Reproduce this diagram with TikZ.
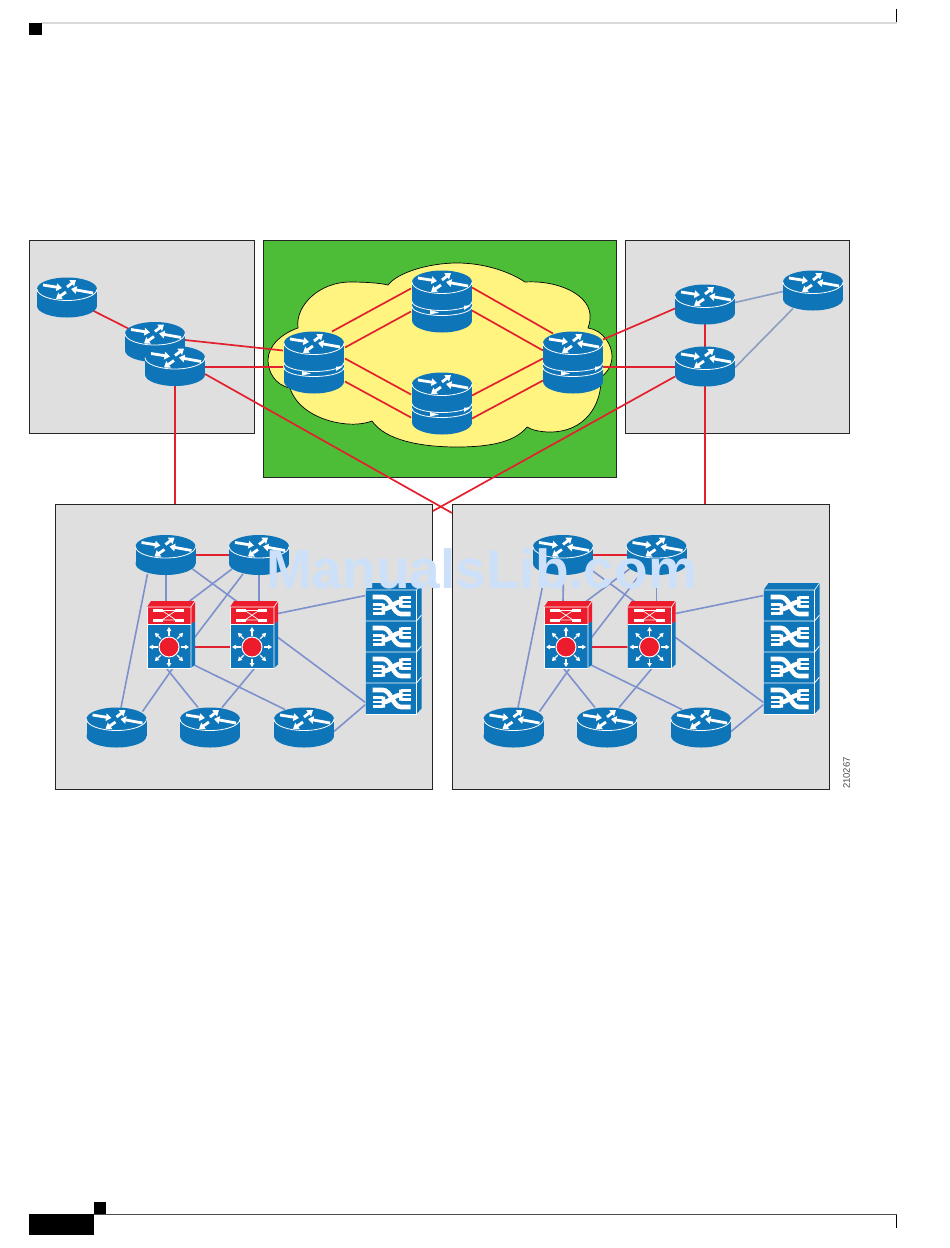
\documentclass[tikz,border=0pt]{standalone}
\usepackage{fontspec}
\setmainfont{Liberation Sans}
\usetikzlibrary{positioning,calc,arrows.meta}
\definecolor{iconblue}{HTML}{0F75B9}
\definecolor{iconred}{HTML}{EC1C2C}
\definecolor{panelgrey}{HTML}{DFDFDF}
\definecolor{cloudgreen}{HTML}{4DBD38}
\definecolor{cloudyellow}{HTML}{FFF480}
\definecolor{linkred}{HTML}{E2202E}
\definecolor{linkblue}{HTML}{7D92CC}
\definecolor{linkgrey}{HTML}{8A9DC2}
\definecolor{markblue}{HTML}{CDE0FA}
\pgfdeclarelayer{panels}
\pgfdeclarelayer{links}
\pgfsetlayers{panels,links,main}
\tikzset{
  face arrow/.style={white,line width=2.8pt,-{Triangle[width=7.5pt,length=5.5pt]}},
  ray arrow/.style={white,line width=1.3pt,-{Triangle[width=4.5pt,length=4pt]}},
}
% top face of a router, with its four arrows
\newcommand{\routerface}[1]{%
  \fill[iconblue] (0,#1) ellipse[x radius=30pt,y radius=11.5pt];
  \draw[white,line width=.8pt] (-30,#1) arc[start angle=180,end angle=360,x radius=30pt,y radius=11.5pt];
  \draw[face arrow] ($(0,#1)+(-24,-4)$) -- ($(0,#1)+(-5,-1)$);
  \draw[face arrow] ($(0,#1)+(0,-2)$) -- ($(0,#1)+(9,-9)$);
  \draw[face arrow] ($(0,#1)+(26,4)$) -- ($(0,#1)+(4,0)$);
  \draw[face arrow] ($(0,#1)+(-1,3)$) -- ($(0,#1)+(-11,10)$);}
\newcommand{\routericon}{%
  \fill[iconblue] (-30,-8.5) rectangle (30,8.5);
  \fill[iconblue] (0,8.5) ellipse[x radius=30pt,y radius=11.5pt];
  \routerface{-8.5}}
\newcommand{\coreicon}{%
  \fill[iconblue] (-30,-19) rectangle (30,19);
  \fill[iconblue] (0,19) ellipse[x radius=30pt,y radius=12pt];
  \routerface{-19.5}
  \draw[white,line width=.8pt] (-30,0) arc[start angle=180,end angle=360,x radius=30pt,y radius=9pt];
  \draw[white,line width=.8pt] (-30,5) arc[start angle=180,end angle=360,x radius=30pt,y radius=9pt];
  \fill[white] (-12,8.5) -- (-12,13) -- (-3,11) -- cycle;
  \fill[white] (22,4) -- (22,8.5) -- (29,4) -- cycle;}
\newcommand{\switchicon}{%
  \fill[iconred] (-24,-27.5) -- (-20,-33.5) -- (24,-33.5) -- (24,-13) -- (20,-10.5) -- (-24,-10.5) -- cycle;
  \fill[iconblue] (-24,-10.5) -- (20,-10.5) -- (24,-13) -- (24,30) -- (20,33.5) -- (-24,33.5) -- cycle;
  \draw[white,line width=.6pt] (-24,-27.5) -- (20,-27.5) -- (24,-33.5) (20,-27.5) -- (20,33.5);
  \draw[white,line width=.7pt] (-24,-10.5) -- (20,-10.5);
  \draw[white,line width=1pt] (-24,33.5) -- (-24,-27.5);
  \draw[white,line width=1pt] (-24,33.5) -- (20,33.5);
  \draw[white,line width=3pt] (-18,-24) -- (-8,-24) (4,-24) -- (13,-24) (-18,-14.5) -- (-8,-14.5) (4,-14.5) -- (13,-14.5);
  \draw[white,line width=.7pt] (-9,-24) -- (5,-14.5) (-9,-14.5) -- (5,-24) (-9,-24) -- (5,-24) (-9,-14.5) -- (5,-14.5);
  \fill[iconred,draw=white,line width=1pt] (-2,12.5) circle[radius=10pt];
  \foreach \a in {0,45,...,315}
    \draw[ray arrow] ($(-2,12.5)+(\a:11.5)$) -- ($(-2,12.5)+(\a:20)$);}
\newcommand{\stackicon}{%
  \fill[iconblue] (-28,-58.5) -- (-23,-65.5) -- (28,-65.5) -- (28,60) -- (23,65.5) -- (-28,65.5) -- cycle;
  \draw[white,line width=.6pt] (-28,-58.5) -- (23,-58.5) -- (28,-65.5) (23,-58.5) -- (23,65.5);
  \foreach \uy in {-43,-12,19,50}{
    \draw[white,line width=4.6pt] (-21,\uy-8.5) -- (-10.5,\uy-8.5) .. controls (-2.5,\uy-8.5) and (-.5,\uy+8.5) .. (7.5,\uy+8.5) -- (17,\uy+8.5);
    \draw[white,line width=4.6pt] (-10.5,\uy+3.5) .. controls (-2.5,\uy+3.5) and (-.5,\uy-3.5) .. (7.5,\uy-3.5);
    \fill[white] (-12,\uy-2) rectangle (-8.5,\uy+9) (5.5,\uy-9) rectangle (9,\uy+2);
    \draw[white,line width=2.4pt] (-21,\uy-1) -- (-10.5,\uy-1) (-21,\uy+3.5) -- (-10.5,\uy+3.5) (-21,\uy+8) -- (-10.5,\uy+8);
    \draw[white,line width=2.4pt] (7.5,\uy-8) -- (17,\uy-8) (7.5,\uy-3.5) -- (17,\uy-3.5) (7.5,\uy+1) -- (17,\uy+1);}
  \foreach \uy in {-27.5,3.5,34.5}
    \draw[white,line width=.8pt] (-28,\uy) -- (23,\uy) -- (28,\uy-6);
  \draw[white,line width=1pt] (-28,65.5) -- (23,65.5);
  \draw[white,line width=1pt] (-28,65.5) -- (-28,-58.5);}
\tikzset{
  router node/.style={rectangle,inner sep=0pt,outer sep=0pt,minimum width=62pt,minimum height=43pt,path picture={\routericon}},
  core node/.style={rectangle,inner sep=0pt,outer sep=0pt,minimum width=62pt,minimum height=66pt,path picture={\coreicon}},
  switch node/.style={rectangle,inner sep=0pt,outer sep=0pt,minimum width=48pt,minimum height=67pt,path picture={\switchicon}},
  stack node/.style={rectangle,inner sep=0pt,outer sep=0pt,minimum width=56pt,minimum height=131pt,path picture={\stackicon}},
  panel box/.style={rectangle,draw=black!85,line width=.8pt,fill=panelgrey,inner sep=0pt,outer sep=0pt},
  red link/.style={draw=linkred,line width=1.7pt},
  blue link/.style={draw=linkblue,line width=1.6pt},
  grey link/.style={draw=linkgrey,line width=1.6pt},
}
\begin{document}
\begin{tikzpicture}[x=1pt,y=-1pt]
  \useasboundingbox (0,0) rectangle (950,1248);

  % page marks
  \fill[black!15] (41,22.3) rectangle (897,23.7);
  \fill[black] (29,23) rectangle (42,35);
  \fill[black] (895.7,9) rectangle (897.2,22);
  \fill[black] (29,1214) rectangle (94,1235);
  \fill[black] (94,1202) rectangle (106,1214);
  \fill[black!70] (94,1213.6) rectangle (897,1214.6);
  \fill[black] (895.7,1215) rectangle (897.2,1228);

  % upper row
  \node[router node] (r0) at (67,297.5) {};
  \node[router node] (r1) at (155,342) {};
  \node[router node] (r2) at (175,366) {};
  \node[core node] (c1) at (314,362.5) {};
  \node[core node] (c2) at (442,301.5) {};
  \node[core node] (c3) at (442,403.5) {};
  \node[core node] (c4) at (573,362.5) {};
  \node[router node] (e1) at (705,304.5) {};
  \node[router node] (e2) at (705,366.5) {};
  \node[router node] (e3) at (813,290.5) {};

  % lower left
  \node[router node] (u1) at (165.5,555) {};
  \node[router node] (u2) at (259,555) {};
  \node[switch node] (s1) at (171,634.5) {};
  \node[switch node] (s2) at (254,634.5) {};
  \node[router node] (d1) at (116.5,727.5) {};
  \node[router node] (d2) at (210,727.5) {};
  \node[router node] (d3) at (304,727.5) {};
  \node[stack node] (st) at (393.5,648.5) {};

  % lower right
  \node[router node] (v1) at (563,555) {};
  \node[router node] (v2) at (656.5,555) {};
  \node[switch node] (w1) at (568,634.5) {};
  \node[switch node] (w2) at (651.5,634.5) {};
  \node[router node] (f1) at (513.5,727.5) {};
  \node[router node] (f2) at (607,727.5) {};
  \node[router node] (f3) at (701,727.5) {};
  \node[stack node] (su) at (791.5,648.5) {};

  \begin{pgfonlayer}{panels}
    \node[panel box,minimum width=225.5pt,minimum height=193pt] (pa) at (141.75,336.5) {};
    \node[panel box,minimum width=224.5pt,minimum height=193pt] (pb) at (737.25,336.5) {};
    \node[panel box,fill=cloudgreen,minimum width=353.5pt,minimum height=237pt] (green) at (439.75,358.5) {};
    \node[panel box,minimum width=377.5pt,minimum height=285pt] (pc) at (243.75,646.5) {};
    \node[panel box,minimum width=377.5pt,minimum height=285pt] (pd) at (640.75,646.5) {};
    \draw[black,line width=.7pt,fill=cloudyellow] (388,285) .. controls (398,272) and (430,263) .. (457,263)
      .. controls (485,263) and (510,272) .. (525,282)
      .. controls (560,280) and (592,296) .. (590,318)
      .. controls (590,322) and (589,325) .. (588,328)
      .. controls (603,330) and (612,345) .. (612,356)
      .. controls (612,365) and (608,372) .. (601,377)
      .. controls (602,405) and (585,432) .. (550,432)
      .. controls (540,432) and (532,430) .. (527,427)
      .. controls (515,442) and (490,447) .. (457,447)
      .. controls (420,447) and (385,440) .. (372,421)
      .. controls (350,430) and (300,420) .. (290,388)
      .. controls (275,385) and (268,372) .. (268,360)
      .. controls (268,345) and (283,333) .. (298,328)
      .. controls (295,305) and (320,282) .. (350,282)
      .. controls (365,282) and (380,283) .. (388,285) -- cycle;
  \end{pgfonlayer}

  \coordinate (xl) at (452,513);
  \coordinate (xr) at (433,511);

  \begin{pgfonlayer}{links}
    \path[red link]
    (r0.center) edge (r1.center)
    ($(r1)+(30,-2)$) edge ($(c1)+(-31,-12)$)
    ($(r2)+(30,1)$) edge ($(c1)+(-31,4.5)$)
    ($(c1)+(18,-31)$) edge ($(c2)+(-31,-13)$)
    ($(c1)+(31,-15)$) edge ($(c2)+(-31,10)$)
    ($(c1)+(31,-4)$) edge ($(c3)+(-31,-9)$)
    ($(c1)+(31,19)$) edge ($(c3)+(-31,14)$)
    ($(c2)+(30,-14)$) edge ($(c4)+(-20,-29)$)
    ($(c2)+(30,9)$) edge ($(c4)+(-30,-12)$)
    ($(c3)+(30,-8)$) edge ($(c4)+(-30,-4)$)
    ($(c3)+(30,15)$) edge ($(c4)+(-30,18)$)
    ($(c4)+(30,-23)$) edge ($(e1)+(-30,4)$)
    ($(c4)+(30,4.5)$) edge ($(e2)+(-30,.5)$)
    (e1.center) edge (e2.center)
    (r2.center) edge (r2.center |- pc.north)
    (e2.center) edge (e2.center |- pd.north)
    ($(r2)+(30,8)$) edge (xl)
    ($(e2)+(-30,10)$) edge (xr)
    % red links inside the lower panels
    (u1.center) edge (u2.center)
    ($(s1)+(20,12.5)$) edge ($(s2)+(-20,12.5)$)
    (v1.center) edge (v2.center)
    ($(w1)+(20,12.5)$) edge ($(w2)+(-20,12.5)$);

    \path[grey link]
    ($(e1)+(30,-2)$) edge ($(e3)+(-30,1)$)
    ($(e2)+(30,1)$) edge ($(e3)+(-20,18)$);

    \path[blue link]
    ($(u1)+(-18,19)$) edge ($(d1)+(4.5,-20)$)
    ($(u1)+(.5,19)$) edge ($(s1)+(-5,-33)$)
    ($(u1)+(27,14)$) edge ($(s2)+(-17,-33)$)
    ($(u2)+(-27,14)$) edge ($(s1)+(18,-33)$)
    ($(u2)+(-16,19)$) edge ($(s1)+(22,5)$)
    ($(u2)+(0,19)$) edge ($(s2)+(5,-33)$)
    ($(s2)+(24,-21)$) edge ($(st)+(-28,-53)$)
    ($(s2)+(24,3)$) edge ($(st)+(-28,54)$)
    ($(d3)+(30,4)$) edge ($(st)+(-28,56)$)
    ($(s1)+(3,32)$) edge ($(d1)+(26,-16)$)
    ($(s1)+(-6,32)$) edge ($(d2)+(-12,-20)$)
    ($(s1)+(22,30)$) edge ($(d3)+(-19,-18)$)
    ($(s2)+(2,32)$) edge ($(d2)+(12,-20)$)
    ($(v1)+(-18,19)$) edge ($(f1)+(4.5,-20)$)
    ($(v1)+(.5,19)$) edge ($(w1)+(-5,-33)$)
    ($(v1)+(27,14)$) edge ($(w2)+(-17,-33)$)
    ($(v2)+(-27,14)$) edge ($(w1)+(18,-33)$)
    ($(v2)+(-16,19)$) edge ($(w1)+(22,5)$)
    ($(v2)+(0,19)$) edge ($(w2)+(5,-33)$)
    ($(w2)+(24,-21)$) edge ($(su)+(-28,-53)$)
    ($(w2)+(24,3)$) edge ($(su)+(-28,54)$)
    ($(f3)+(30,4)$) edge ($(su)+(-28,56)$)
    ($(w1)+(3,32)$) edge ($(f1)+(26,-16)$)
    ($(w1)+(-6,32)$) edge ($(f2)+(-12,-20)$)
    ($(w1)+(22,30)$) edge ($(f3)+(-19,-18)$)
    ($(w2)+(2,32)$) edge ($(f2)+(12,-20)$);
  \end{pgfonlayer}

  \node[rotate=90,font=\fontsize{9.5}{11}\selectfont,text=black!70,inner sep=0pt] (num) at (846.5,773) {210267};
  \node[font=\fontsize{55}{60}\bfseries\selectfont,text=markblue,inner sep=0pt,anchor=base] (mark) at (481.5,588) {ManualsLib.com};
\end{tikzpicture}
\end{document}
